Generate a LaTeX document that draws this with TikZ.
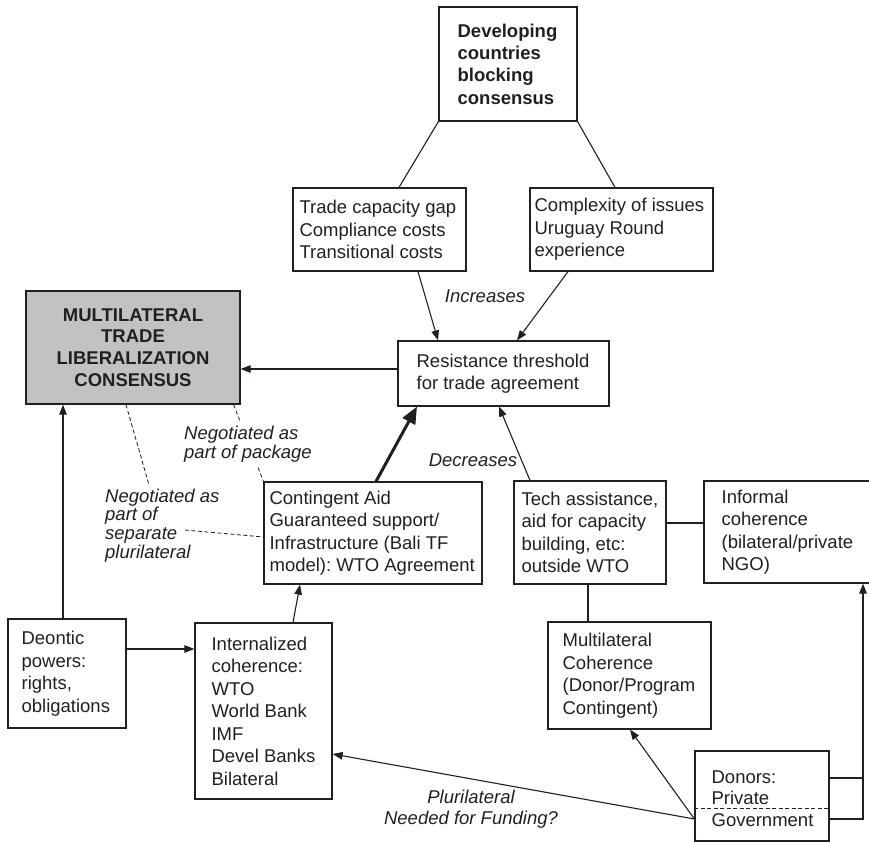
\documentclass[tikz,border=0pt]{standalone}
\usepackage{fontspec}
\setmainfont{Liberation Sans}
\usetikzlibrary{arrows.meta,calc}
\definecolor{ink}{HTML}{231F20}
\definecolor{boxgray}{HTML}{C2C2C2}
\frenchspacing
\begin{document}
\begin{tikzpicture}[x=1pt,y=-1pt,
  every node/.style={text=ink,font=\fontsize{18.5}{22.5}\selectfont},
  box/.style={draw=ink,line width=1.2pt,inner sep=0pt},
  txt/.style={anchor=west,align=left,inner sep=0pt},
  lab/.style={inner sep=0pt,align=left,font=\itshape\fontsize{18.5}{18.6}\selectfont},
  ln/.style={draw=ink,line width=1.1pt},
  arr/.style={ln,-{Triangle[length=10pt,width=7.5pt]}},
  thickarr/.style={draw=ink,line width=3pt,-{Triangle[length=17pt,width=14pt]}},
  dsh/.style={draw=ink,line width=0.8pt,dash pattern=on 4pt off 2.5pt}]
\useasboundingbox (0,0) rectangle (869,842);

% boxes
\node[box, minimum width=138pt, minimum height=114pt] (top) at (508,64) {};
\node[txt, font=\bfseries\fontsize{18.5}{22.3}\selectfont] at ([xshift=19pt]top.west) {Developing\\countries\\blocking\\consensus};

\node[box, minimum width=173pt, minimum height=83pt] (trade) at (379.5,229.5) {};
\node[txt] at ([xshift=7pt]trade.west) {Trade capacity gap\\Compliance costs\\Transitional costs};

\node[box, minimum width=183pt, minimum height=83pt] (complex) at (621.5,229.5) {};
\node[txt] at ([xshift=5pt]complex.west) {Complexity of issues\\Uruguay Round\\experience};

\node[box, minimum width=211pt, minimum height=65pt] (resist) at (503.5,373.5) {};
\node[txt] at ([xshift=19pt]resist.west) {Resistance threshold\\for trade agreement};

\node[box, fill=boxgray, minimum width=214pt, minimum height=113pt, align=center,
  font=\bfseries\fontsize{18.5}{21.7}\selectfont] (multi) at (133,347.5) {MULTILATERAL\\TRADE\\LIBERALIZATION\\CONSENSUS};

\node[box, minimum width=218pt, minimum height=102pt] (cont) at (373,533) {};
\node[txt] at ([xshift=6pt]cont.west) {Contingent Aid\\Guaranteed support/\\Infrastructure (Bali TF\\model): WTO Agreement};

\node[box, minimum width=152pt, minimum height=103pt] (tech) at (590,532.5) {};
\node[txt] at ([xshift=8pt]tech.west) {Tech assistance,\\aid for capacity\\building, etc:\\outside WTO};

\node[box, minimum width=168pt, minimum height=102pt] (inform) at (788,532) {};
\node[txt] at ([xshift=18pt]inform.west) {Informal\\coherence\\(bilateral/private\\NGO)};

\node[box, minimum width=163pt, minimum height=107pt] (mcoh) at (629.5,675.5) {};
\node[txt] at ([xshift=15pt]mcoh.west) {Multilateral\\Coherence\\(Donor/Program\\Contingent)};

\node[box, minimum width=118pt, minimum height=109pt] (deon) at (67,673.5) {};
\node[txt] at ([xshift=14pt]deon.west) {Deontic\\powers:\\rights,\\obligations};

\node[box, minimum width=137pt, minimum height=176pt] (intern) at (263.5,711) {};
\node[txt] at ([xshift=17pt]intern.west) {Internalized\\coherence:\\WTO\\World Bank\\IMF\\Devel Banks\\Bilateral};

\node[box, minimum width=134pt, minimum height=90pt] (donors) at (762,796) {};
\node[txt, font=\fontsize{18.5}{21.5}\selectfont] at ([xshift=17pt,yshift=-2.5pt]donors.west) {Donors:\\Private\\Government};
\draw[dsh] ([yshift=-12pt]donors.west) -- ([yshift=-12pt]donors.east);

% labels
\node[lab, align=center] (incr) at (485,296) {Increases};
\node[lab, align=center] (decr) at (473,460) {Decreases};
\node[lab, anchor=west] (pack) at (184,444) {Negotiated as\\part of package};
\node[lab, anchor=west] (sep) at (105,525.5) {Negotiated as\\part of\\separate\\plurilateral};
\node[lab, align=center, font=\itshape\fontsize{18.5}{21}\selectfont] (plur) at (471,809.5) {Plurilateral\\Needed for Funding?};

% connectors
\draw[ln] (top.south west) -- ([xshift=19.5pt]trade.north);
\draw[ln] (top.south east) -- ([xshift=-6.5pt]complex.north);
\draw[arr] ([xshift=38.5pt]trade.south) -- ([xshift=-65.5pt]resist.north);
\draw[arr] ([xshift=-53.5pt]complex.south) -- ([xshift=13.5pt]resist.north);
\draw[arr] ([yshift=4.5pt]resist.west) -- ([yshift=4.5pt]resist.west -| multi.east);
\draw[thickarr] ([xshift=3pt]cont.north) -- ([xshift=-86.5pt]resist.south);
\draw[arr] ([xshift=-60pt]tech.north) -- ([xshift=-4.5pt]resist.south);
\draw[ln] ([yshift=9.5pt]tech.east) -- ([yshift=9.5pt]tech.east -| inform.west);
\draw[ln] ([xshift=-2pt]tech.south) -- ([xshift=-2pt]tech.south |- mcoh.north);
\draw[arr] ([xshift=-4pt]deon.north) -- ([xshift=-4pt]deon.north |- multi.south);
\draw[arr] ([yshift=24.5pt]deon.east) -- ([yshift=24.5pt]deon.east -| intern.west);
\draw[arr] ([xshift=29.5pt]intern.north) -- ([xshift=-73pt]cont.south);
\draw[arr] ([yshift=-23pt]donors.west) -- ([yshift=-43pt]intern.east);
\draw[arr] ([yshift=-23pt]donors.west) -- ([xshift=0.5pt]mcoh.south);
\coordinate (rbot) at (863,819);
\draw[ln] ([yshift=18pt]donors.east) -- ([yshift=18pt]donors.east -| rbot);
\draw[arr] ([yshift=-23pt]donors.east) -- (rbot) -- (rbot |- inform.south);

% dashed connectors
\coordinate (d1a) at ([xshift=-7pt]multi.south east);
\draw[dsh] (d1a) -- ($(d1a)!0.205!(cont.north west)$);
\draw[dsh] ($(d1a)!0.82!(cont.north west)$) -- (cont.north west);
\coordinate (d2a) at ([xshift=-7pt]multi.south);
\coordinate (d2b) at (149,485);
\draw[dsh] (d2a) -- (d2b);
\coordinate (d3a) at (185,530);
\draw[dsh] (d3a) -- ([yshift=-4pt]cont.west);
\end{tikzpicture}
\end{document}
